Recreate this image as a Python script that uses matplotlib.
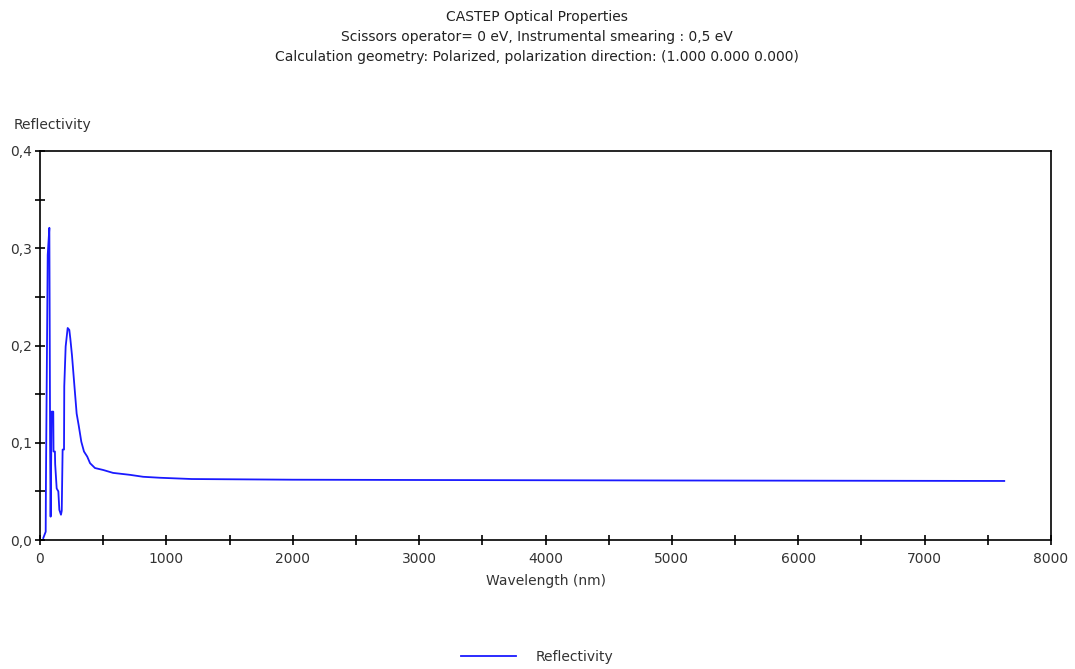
import matplotlib
matplotlib.use("Agg")
import matplotlib.pyplot as plt
from matplotlib.ticker import MultipleLocator, FuncFormatter

# Data
wavelength_nm = [26, 45, 47, 61, 74, 80, 84, 92, 105, 107, 118, 120, 132, 145, 153, 166,
                 172, 179, 190, 192, 203, 219, 232, 240, 253, 272, 290, 306, 327, 348,
                 374, 396, 435, 500, 578, 712, 816, 949, 1200, 2000, 3000, 5000, 7630]
reflectivity = [0.002, 0.0085, 0.059, 0.293, 0.321, 0.100, 0.024, 0.132, 0.132, 0.091,
                0.091, 0.078, 0.053, 0.050, 0.031, 0.026, 0.030, 0.093, 0.093, 0.158,
                0.199, 0.218, 0.216, 0.207, 0.190, 0.159, 0.130, 0.118, 0.101, 0.091,
                0.0857, 0.079, 0.074, 0.072, 0.069, 0.067, 0.065, 0.064, 0.0627, 0.062,
                0.0617, 0.0612, 0.0607]

title_lines = ["CASTEP Optical Properties",
               "Scissors operator= 0 eV, Instrumental smearing : 0,5 eV",
               "Calculation geometry: Polarized, polarization direction: (1.000 0.000 0.000)"]
series_name = "Reflectivity"
x_label = "Wavelength (nm)"
y_label = "Reflectivity"

FS = 10
plt.rcParams['font.family'] = ['DejaVu Sans']
fig = plt.figure(figsize=(10.75, 6.69), dpi=100)
ax = fig.add_axes([40/1075, 1-540/669, (1051-40)/1075, (540-151)/669])

line, = ax.plot(wavelength_nm, reflectivity, color='#1a1aff', lw=1.3, label=series_name)

ax.set_xlim(0, 8000)
ax.set_ylim(0, 0.4)
ax.xaxis.set_major_locator(MultipleLocator(1000))
ax.xaxis.set_minor_locator(MultipleLocator(500))
ax.yaxis.set_major_locator(MultipleLocator(0.1))
ax.yaxis.set_minor_locator(MultipleLocator(0.05))
ax.yaxis.set_major_formatter(FuncFormatter(lambda v, p: f"{v:.1f}".replace('.', ',')))
ax.xaxis.set_major_formatter(FuncFormatter(lambda v, p: f"{int(round(v))}"))
for which in ('major', 'minor'):
    ax.tick_params(axis='both', which=which, direction='inout', length=7, width=1.2,
                   color='black', top=False, right=False)
ax.tick_params(axis='both', which='major', labelsize=FS, labelcolor='#333333', pad=2)
ax.tick_params(axis='x', which='major', pad=5)
for s in ax.spines.values():
    s.set_linewidth(1.2)
    s.set_color('black')

ax.set_xlabel(x_label, fontsize=FS, color='#333333', labelpad=6)

fig.text(14/1075, 1-125/669, y_label, fontsize=FS, color='#333333', ha='left', va='center')
for i, t in enumerate(title_lines):
    fig.text(537/1075, 1-(17+20*i)/669, t, fontsize=FS, color='#222222', ha='center', va='center')

# legend at bottom
fig.legend(handles=[line], loc='center', bbox_to_anchor=(537/1075, 1-657/669), frameon=False,
           fontsize=FS, handlelength=4.0, handletextpad=1.4, labelcolor='#333333')

fig.savefig("out.png", dpi=100, facecolor='white')
